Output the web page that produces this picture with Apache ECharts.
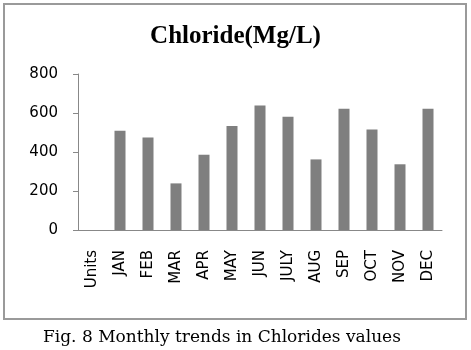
<!DOCTYPE html>
<html>
<head>
<meta charset="utf-8">
<script src="https://cdn.jsdelivr.net/npm/echarts@6/dist/echarts.min.js"></script>
<style>
html, body { margin: 0; padding: 0; background: #fff; }
#main { width: 471px; height: 350px; }
</style>
</head>
<body>
<div id="main"></div>
<script>
var months = ['Units', 'JAN', 'FEB', 'MAR', 'APR', 'MAY', 'JUN', 'JULY', 'AUG', 'SEP', 'OCT', 'NOV', 'DEC'];
var chloride = [null, 509, 475, 239, 386, 533, 639, 581, 362, 622, 516, 337, 622];

var chart = echarts.init(document.getElementById('main'));

var option = {
    animation: false,
    backgroundColor: '#fff',
    title: {
        text: 'Chloride(Mg/L)',
        left: 'center',
        top: 19,
        textStyle: {
            fontFamily: 'Liberation Serif',
            fontWeight: 'bold',
            fontSize: 25,
            color: '#000'
        }
    },
    graphic: [
        {
            type: 'rect',
            shape: { x: 4, y: 4, width: 462, height: 315 },
            style: { fill: 'none', stroke: '#9a9a9a', lineWidth: 2 }
        },
        {
            type: 'text',
            left: 43,
            top: 329,
            style: {
                text: 'Fig. 8 Monthly trends in Chlorides values',
                fontFamily: 'DejaVu Serif',
                fontSize: 17,
                fill: '#000'
            }
        }
    ],
    grid: {
        left: 78,
        right: 29,
        top: 74,
        bottom: 120
    },
    xAxis: {
        type: 'category',
        data: months,
        axisLine: { lineStyle: { color: '#888' } },
        axisTick: { length: 5, lineStyle: { color: '#888' } },
        axisLabel: {
            rotate: 90,
            margin: 20,
            fontFamily: 'DejaVu Sans',
            fontSize: 15,
            color: '#000'
        }
    },
    yAxis: {
        type: 'value',
        min: 0,
        max: 800,
        interval: 200,
        axisLine: { show: true, lineStyle: { color: '#888' } },
        axisTick: { show: true, length: 5, lineStyle: { color: '#888' } },
        splitLine: { show: false },
        axisLabel: {
            margin: 20,
            fontFamily: 'DejaVu Sans',
            fontSize: 15,
            color: '#000'
        }
    },
    series: [
        {
            type: 'bar',
            data: chloride,
            barWidth: 11,
            itemStyle: { color: '#7f7f7f' }
        }
    ]
};

chart.setOption(option);
</script>
</body>
</html>
